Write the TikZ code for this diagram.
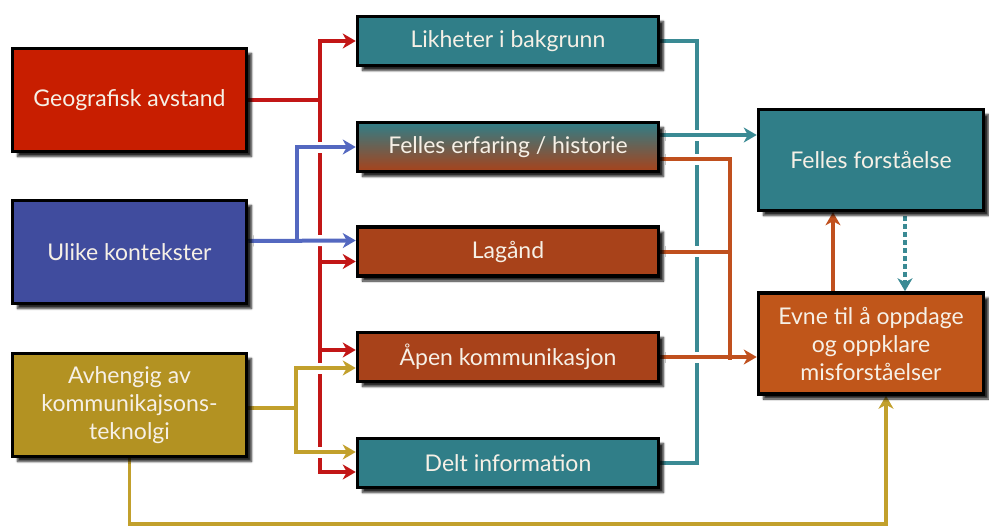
\documentclass[tikz,border=0pt]{standalone}
\usepackage{fontspec}
\setmainfont{Lato}
\usepackage{tikz}
\usetikzlibrary{arrows.meta,backgrounds,calc,shadows.blur}

\definecolor{boxred}{HTML}{C81E00}
\definecolor{boxblue}{HTML}{404C9E}
\definecolor{boxgold}{HTML}{B39222}
\definecolor{boxteal}{HTML}{307E88}
\definecolor{boxrust}{HTML}{A8421A}
\definecolor{boxorange}{HTML}{C0561A}
\definecolor{txt}{HTML}{F6F0E6}
\definecolor{lnred}{HTML}{C21616}
\definecolor{lnblue}{HTML}{5468C0}
\definecolor{lngold}{HTML}{C2A02C}
\definecolor{lnteal}{HTML}{3A8A94}
\definecolor{lnrust}{HTML}{C0501E}

\begin{document}
\begin{tikzpicture}[x=1pt,y=-1pt,
  >={Stealth[length=13pt,width=15pt,inset=4pt]},
  box/.style={draw=black, line width=3.5pt, text=txt, align=center,
    font=\fontsize{23}{28}\selectfont,
    blur shadow={shadow xshift=5pt, shadow yshift=-5pt, shadow blur steps=6, shadow opacity=85}},
  leftbox/.style={box, minimum width=234pt, minimum height=103pt},
  midbox/.style={box, minimum width=301pt, minimum height=49pt},
  rightbox/.style={box, minimum width=225pt, minimum height=101pt},
  ln/.style={line width=4pt},
  over/.style={preaction={draw=white, line width=11pt}}]
\useasboundingbox (0,0) rectangle (989,527);

\node[leftbox, fill=boxred] (geo) at (129.5,100) {Geografisk avstand};
\node[leftbox, fill=boxblue] (ulike) at (129.5,252) {Ulike kontekster};
\node[leftbox, fill=boxgold] (avh) at (129.5,405) {Avhengig av\\kommunikajsons-\\teknolgi};

\node[midbox, fill=boxteal] (likh) at (508,41) {Likheter i bakgrunn};
\node[midbox, top color=boxteal, bottom color=boxrust] (erf) at (508,147) {Felles erfaring / historie};
\node[midbox, fill=boxrust] (lag) at (508,251.5) {Lagånd};
\node[midbox, fill=boxrust] (apen) at (508,357) {Åpen kommunikasjon};
\node[midbox, fill=boxteal] (delt) at (508,463) {Delt information};

\node[rightbox, fill=boxteal] (forst) at (871,160) {Felles forståelse};
\node[rightbox, fill=boxorange] (evne) at (871,343.5) {Evne til å oppdage\\og oppklare\\misforståelser};

\coordinate (rj) at (320,100);
\coordinate (bj) at (297,241);
\coordinate (gj) at (296,408);
\coordinate (tj) at (697,41);
\coordinate (oj) at (730,358);
\coordinate (g1) at ($(apen.west)+(0,11)$);
\coordinate (g2) at ($(delt.west)+(0,-11)$);
\coordinate (e1) at ($(erf.east)+(0,-12)$);
\coordinate (e2) at ($(erf.east)+(0,12)$);

\begin{scope}[on background layer]
% lines that get crossed
\draw[ln, lnred] (geo.east) -- (rj);
\draw[ln, lnred, ->] (rj) |- (likh.west);
\draw[ln, lnred, ->] (rj) |- ($(lag.west)+(0,10)$);
\draw[ln, lnred, ->] (rj) |- ($(apen.west)+(0,-7)$);
\draw[ln, lnred, ->] (rj) |- ($(delt.west)+(0,9)$);
\draw[ln, lnteal, line width=4.5pt] (likh.east) -- (tj) -- (tj |- delt.east) -- (delt.east);

% lines that cross over
\draw[ln, lnblue, over, ->] ($(ulike.east)+(0,-11)$) -- ($(lag.west)+(0,-11)$);
\draw[ln, lnblue, over, ->] (bj |- erf.west) -- (erf.west);
\draw[ln, lngold, over, ->] (g1 -| gj) -- (g1);
\draw[ln, lngold, over, ->] (g2 -| gj) -- (g2);
\draw[ln, lnteal, over, ->] (e1) -- (e1 -| forst.west);
\draw[ln, lnrust, over] (e2) -- (e2 -| oj);
\draw[ln, lnrust, over] (lag.east) -- (lag.east -| oj);
\draw[ln, lnrust, over, ->] (apen.east) -- (apen.east -| evne.west);

\draw[ln, lnblue, line cap=rect] (bj) -- (bj |- erf.west);
\draw[ln, lngold] ($(avh.east)+(0,3)$) -- (gj);
\draw[ln, lngold, line cap=rect] (g1 -| gj) -- (g2 -| gj);
\draw[ln, lnrust, line cap=rect] (e2 -| oj) -- (oj);
\draw[ln, lngold, line width=3.5pt, ->] (avh.south) -- (avh.south |- 0,524) -| ($(evne.south)+(15,0)$);

\draw[ln, lnrust, ->] ($(evne.north)+(-38,0)$) -- ($(forst.south)+(-38,0)$);
\draw[ln, lnteal, dash pattern=on 5pt off 3pt, ->] ($(forst.south)+(34,4)$) -- ($(evne.north)+(34,0)$);
\end{scope}
\end{tikzpicture}
\end{document}
